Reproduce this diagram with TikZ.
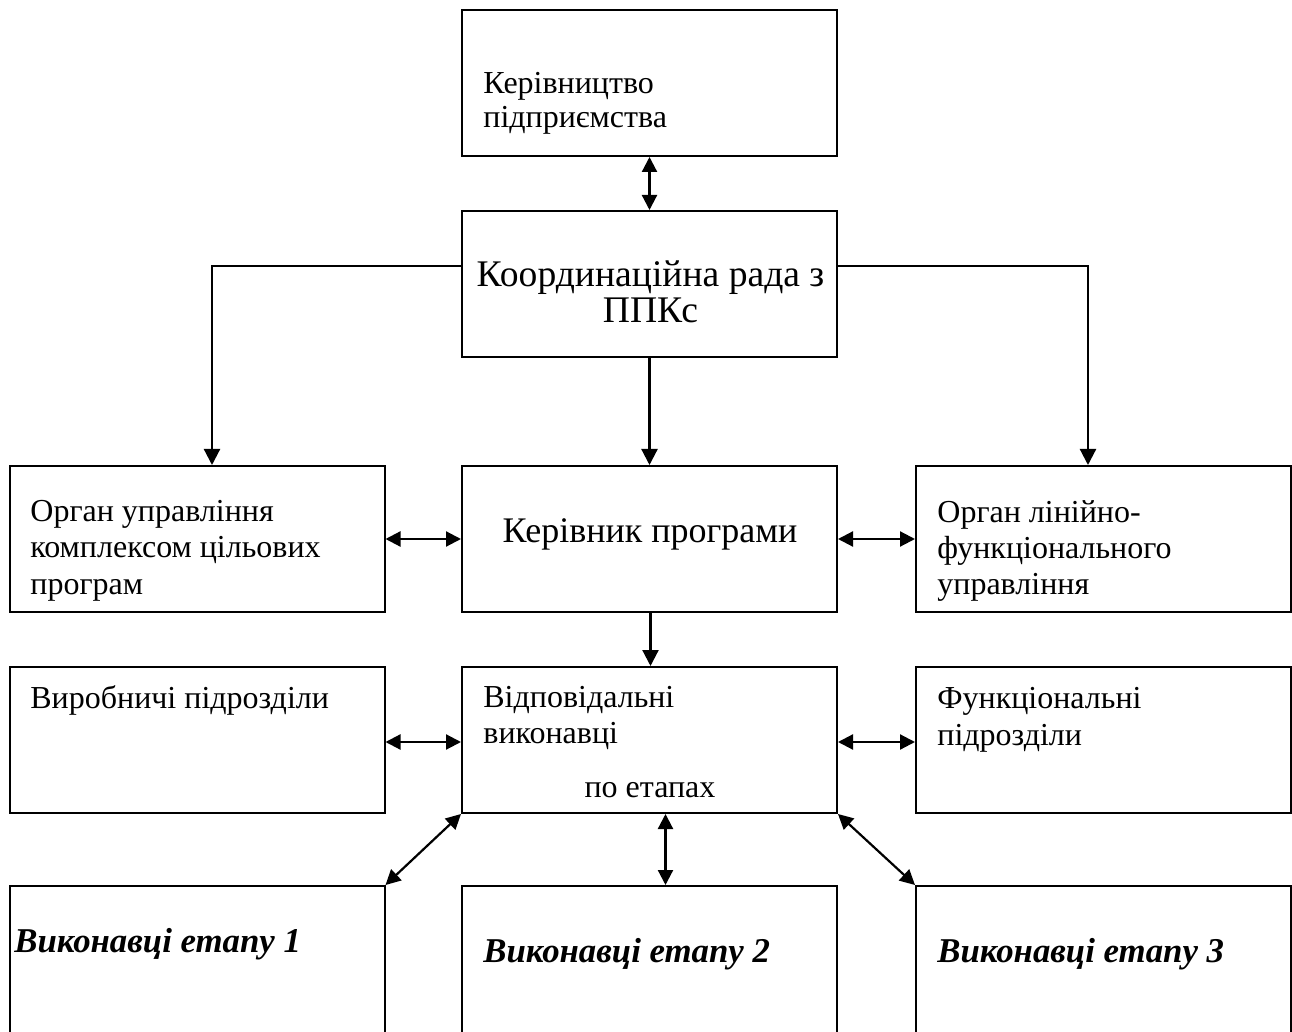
\documentclass[tikz,border=0pt]{standalone}
\usepackage{fontspec}
\setmainfont{Liberation Serif}
\usetikzlibrary{arrows.meta}
\begin{document}
\begin{tikzpicture}[x=0.5pt,y=-0.5pt,
  box/.style={draw, line width=1pt, inner sep=0pt, minimum width=187.5pt, minimum height=73pt},
  tallbox/.style={box, minimum height=90pt},
  txt/.style={inner sep=0pt, anchor=base west, font=\fontsize{16}{18}\selectfont},
  ctxt/.style={txt, anchor=base},
  big/.style={inner sep=0pt, anchor=base, font=\fontsize{18}{20}\selectfont},
  bigger/.style={big, font=\fontsize{18.8}{20}\selectfont},
  bi/.style={txt, font=\fontsize{17.4}{19}\selectfont\bfseries\itshape},
  arr/.style={line width=1.1pt, -{Triangle[length=8pt,width=8pt]}},
  dbl/.style={line width=1.1pt, {Triangle[length=7.5pt,width=7.5pt]}-{Triangle[length=7.5pt,width=7.5pt]}}
]
\useasboundingbox (0,0) rectangle (1292,1032);
\clip (0,0) rectangle (1292,1032);

% boxes
\node[box] (top) at (649.5,83) {};
\node[box] (coord) at (649.5,284) {};
\node[box] (org1) at (197,539) {};
\node[box] (prog) at (649.5,539) {};
\node[box] (org3) at (1103.5,539) {};
\node[box] (vyr) at (197,740) {};
\node[box] (resp) at (649.5,740) {};
\node[box] (func) at (1103.5,740) {};
\node[tallbox] (st1) at (197,976) {};
\node[tallbox] (st2) at (649.5,976) {};
\node[tallbox] (st3) at (1103.5,976) {};

% texts
\node[txt] (t1a) at (483,94) {Керівництво};
\node[txt] (t1b) at (483,128) {підприємства};
\node[bigger] (t2a) at (650.5,287) {Координаційна рада з};
\node[bigger] (t2b) at (650.5,323) {ППКс};
\node[txt] (t3a) at (30,522) {Орган управління};
\node[txt] (t3b) at (30,558) {комплексом цільових};
\node[txt] (t3c) at (30,595) {програм};
\node[big] (t4) at (650,543) {Керівник програми};
\node[txt] (t5a) at (937,523) {Орган лінійно-};
\node[txt] (t5b) at (937,559) {функціонального};
\node[txt] (t5c) at (937,595) {управління};
\node[txt] (t6) at (30,708) {Виробничі підрозділи};
\node[txt] (t7a) at (483,707) {Відповідальні};
\node[txt] (t7b) at (483,743) {виконавці};
\node[ctxt] (t7c) at (650,797) {по етапах};
\node[txt] (t8a) at (937,708) {Функціональні};
\node[txt] (t8b) at (937,745) {підрозділи};
\node[bi] (t9) at (14,952) {Виконавці етапу 1};
\node[bi] (t10) at (483,962) {Виконавці етапу 2};
\node[bi] (t11) at (937,962) {Виконавці етапу 3};

% connectors
\draw[dbl] (top.south) -- (coord.north);
\draw[arr] ([yshift=9pt]coord.west) -| ([xshift=7.5pt]org1.north);
\draw[arr] ([yshift=9pt]coord.east) -| ([xshift=-7.75pt]org3.north);
\draw[arr] (coord.south) -- (prog.north);
\draw[dbl] (org1.east) -- (prog.west);
\draw[dbl] (prog.east) -- (org3.west);
\draw[arr] ([xshift=0.5pt]prog.south) -- ([xshift=0.5pt]resp.north);
\draw[dbl] ([yshift=-1pt]vyr.east) -- ([yshift=-1pt]resp.west);
\draw[dbl] ([yshift=-1pt]resp.east) -- ([yshift=-1pt]func.west);
\draw[dbl] (resp.south west) -- (st1.north east);
\draw[dbl] ([xshift=8pt]resp.south) -- ([xshift=8pt]st2.north);
\draw[dbl] (resp.south east) -- (st3.north west);
\end{tikzpicture}
\end{document}
